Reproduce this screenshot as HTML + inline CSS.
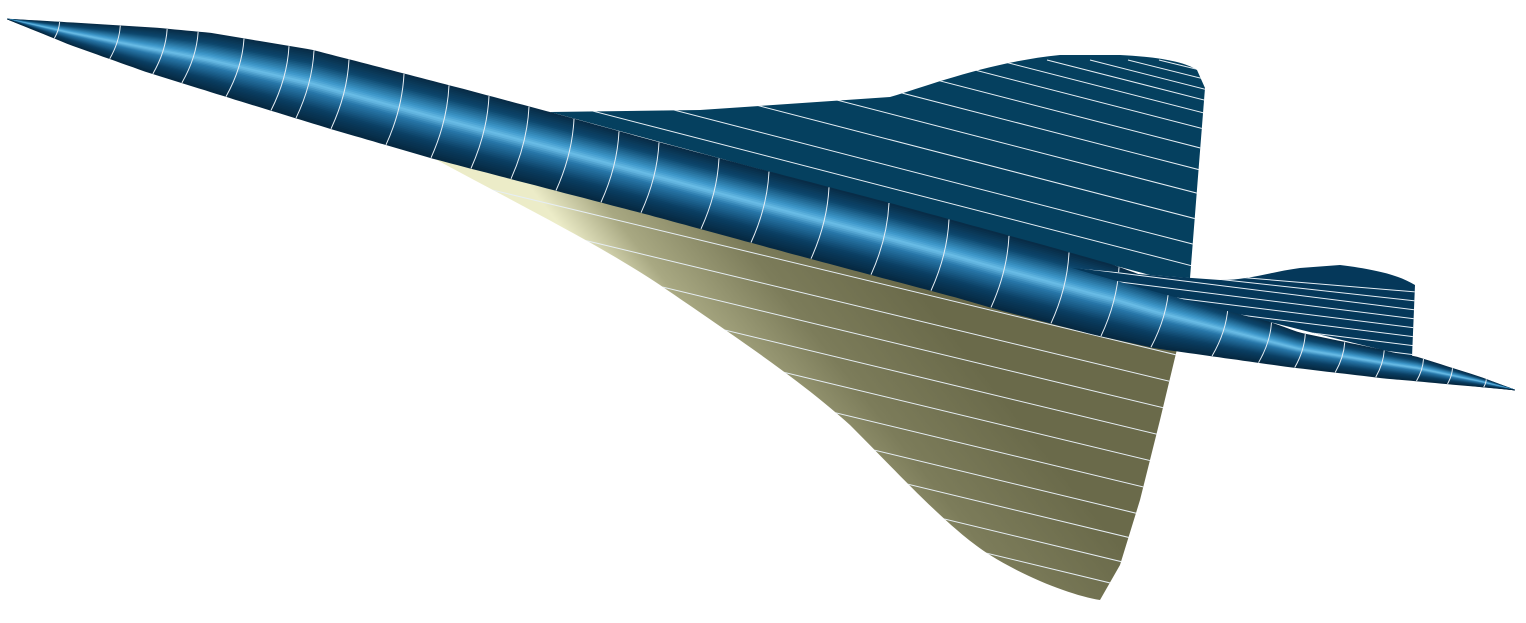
<!DOCTYPE html>
<html><head><meta charset="utf-8"><style>
html,body{margin:0;padding:0;background:#fff;width:1526px;height:623px;overflow:hidden}
svg{display:block}
</style></head><body>
<svg id="s" width="1526" height="623" viewBox="0 0 1526 623">
<defs>
<linearGradient id="lw" gradientUnits="userSpaceOnUse" x1="690" y1="390" x2="880" y2="240">
<stop offset="0" stop-color="#ececc8"/><stop offset="0.2" stop-color="#a8a882"/>
<stop offset="0.55" stop-color="#7c7c5a"/><stop offset="1" stop-color="#6a6a4a"/></linearGradient>
<clipPath id="cUw"><path d="M550,112 L700,110 L890,97 C930,85 990,62 1060,55 L1120,55 C1160,57 1185,62 1197,70 L1205,88 L1190,278 L1150,275 C1000,235 800,180 550,112 Z"/></clipPath>
<clipPath id="cLw"><path d="M435,159 C520,205 600,245 660,285 C740,340 800,380 850,425 C900,475 950,530 990,555 C1030,580 1075,596 1100,600 L1120,565 L1140,500 L1160,420 L1178,345 C950,290 700,220 435,159 Z"/></clipPath>
<clipPath id="cT"><path d="M1072,268 L1150,275 L1220,280 C1250,280 1270,272 1300,268 L1340,265 C1380,270 1400,276 1415,285 L1412,357 C1300,330 1180,300 1072,268 Z"/></clipPath>
</defs>
<g clip-path="url(#cUw)">
<rect x="540" y="50" width="670" height="232" fill="#05405f"/>
<g id="uwl"></g>
</g>
<g clip-path="url(#cLw)">
<rect x="430" y="155" width="752" height="448" fill="url(#lw)"/>
<g id="lwl"></g>
</g>
<g id="fus"></g>
<g clip-path="url(#cT)">
<rect x="1070" y="262" width="348" height="98" fill="#05385a"/>
<g id="tl"></g>
</g>
</svg>
<script>
const NS="http://www.w3.org/2000/svg";
const topE=[[7,19],[76,23],[156,28],[210,33],[312,50],[455,87],[549,112],[650,140],[755,168],[889,203],[1046,246],[1113,265],[1167,285],[1300,333],[1417,357],[1480,377],[1515,390]];
const botE=[[7,19],[71,45],[147,72],[237,100],[335,130],[435,159],[650,215],[797,255],[955,297],[1000,310],[1092,334],[1155,348],[1290,367],[1383,378],[1515,390]];
function interp(a,x){for(let i=0;i<a.length-1;i++){if(x>=a[i][0]&&x<=a[i+1][0]){const t=(x-a[i][0])/(a[i+1][0]-a[i][0]);return a[i][1]+t*(a[i+1][1]-a[i][1]);}}return a[a.length-1][1];}
const ramp=[[0,[8,42,68]],[0.18,[12,70,108]],[0.38,[60,150,200]],[0.47,[108,190,232]],[0.58,[40,120,170]],[0.8,[10,62,98]],[1,[6,40,64]]];
function col(t){for(let i=0;i<ramp.length-1;i++){if(t<=ramp[i+1][0]){const u=(t-ramp[i][0])/(ramp[i+1][0]-ramp[i][0]);const a=ramp[i][1],b=ramp[i+1][1];return `rgb(${a.map((v,j)=>Math.round(v+u*(b[j]-v))).join(',')})`;}}return 'rgb(6,40,64)';}
const fus=document.getElementById('fus');
const N=40,xs=[];for(let x=7;x<=1515;x+=6)xs.push(x);xs.push(1515);
for(let k=0;k<N;k++){const t0=k/N,t1=(k+1)/N;let pts=[];
for(const x of xs){const a=interp(topE,x),b=interp(botE,x);pts.push(`${x},${(a+(b-a)*t0-0.3).toFixed(1)}`);}
for(const x of xs.slice().reverse()){const a=interp(topE,x),b=interp(botE,x);pts.push(`${x},${(a+(b-a)*t1+0.3).toFixed(1)}`);}
const p=document.createElementNS(NS,'polygon');p.setAttribute('points',pts.join(' '));p.setAttribute('fill',col((t0+t1)/2));


fus.appendChild(p);}
function ln(g,d){const p=document.createElementNS(NS,'path');p.setAttribute('d',d);
p.setAttribute('stroke','#e6eef4');p.setAttribute('stroke-width','1');p.setAttribute('fill','none');


document.getElementById(g).appendChild(p);}
const frames=[57,115,160,190,235,280,305,340,395,440,480,520,565,610,650,710,760,820,880,940,1000,1060,1110,1160,1220,1265,1300,1340,1380,1420,1450,1485];
for(const x of frames){const sh=Math.min(18,(interp(botE,x)-interp(topE,x))*0.3);const xt=x+sh/2,xb=x-sh/2;
const yt=interp(topE,xt),yb=interp(botE,xb);ln('fus',`M${xt},${yt} Q${x+sh*0.4},${(yt+yb)/2} ${xb},${yb}`);}
// upper wing chord lines: end y on trailing edge
const uwte=[72,80,90,101,114,130,150,172,196,222,248,270];
for(const y of uwte){const x0=Math.max(550,1205-(y-60)/0.26);const y0=y-(1205-x0)*0.26;ln('uwl',`M${x0.toFixed(0)},${y0.toFixed(0)} L1208,${y}`);}
// lower wing chord lines
const lwy=[210,240,268,296,324,352,380,408,436,462,488,512,534,552,566,578,588];
for(const y of lwy){const x1=Math.min(1185,420+(605-(y-95))/0.24);const y1=(y-95)+(x1-420)*0.24;ln('lwl',`M430,${(y-95+2.4).toFixed(0)} L${x1.toFixed(0)},${y1.toFixed(0)}`);}
for(let i=0;i<9;i++){const y0=262+i*9;ln('tl',`M1080,${Math.max(264,y0-12)} L1416,${y0+30}`);}
</script>
</body></html>
